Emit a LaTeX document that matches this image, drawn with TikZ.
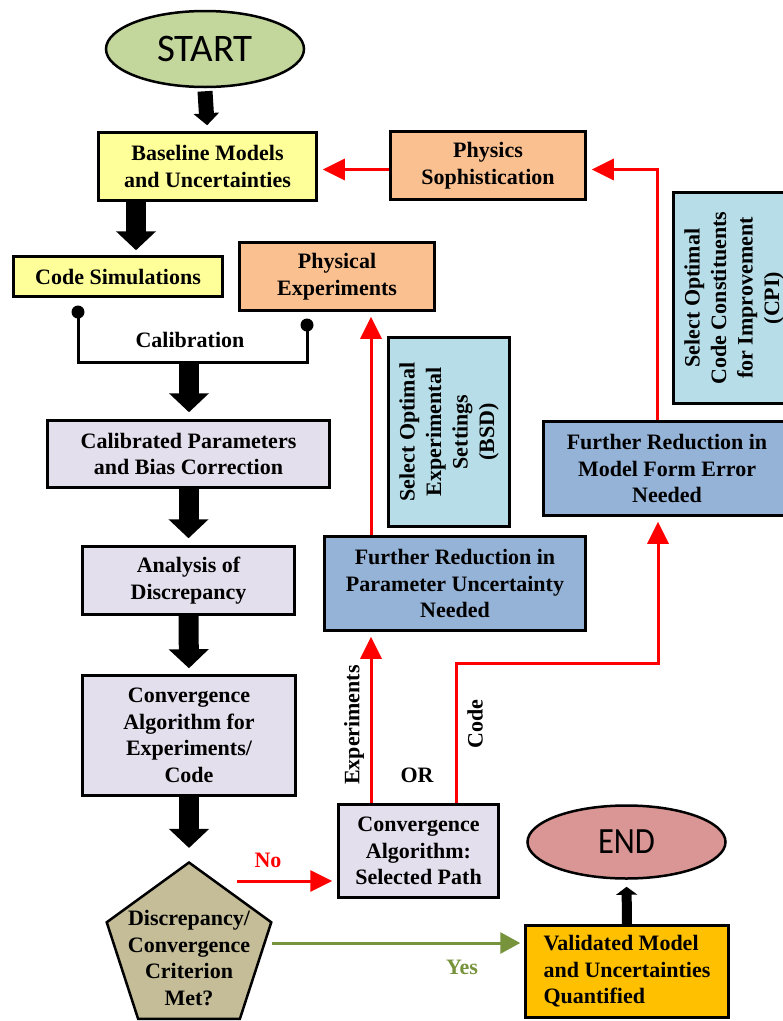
\documentclass[tikz,border=0pt]{standalone}
\usepackage{fontspec}
\setmainfont{Liberation Serif}
\newfontfamily\carlito{Carlito}
\usetikzlibrary{arrows.meta,shapes.geometric}
\definecolor{cstart}{HTML}{C3D69B}
\definecolor{cyellow}{HTML}{FFFF99}
\definecolor{corange}{HTML}{FAC090}
\definecolor{clblue}{HTML}{B7DEE8}
\definecolor{cmblue}{HTML}{95B3D7}
\definecolor{clav}{HTML}{E4DFEC}
\definecolor{ctan}{HTML}{C4BD97}
\definecolor{cgold}{HTML}{FFC000}
\definecolor{cend}{HTML}{D99694}
\definecolor{cred}{HTML}{FF0000}
\definecolor{cgreen}{HTML}{77933C}
\begin{document}
\begin{tikzpicture}[x=1pt,y=-1pt,
  txt/.style={inner sep=0pt,align=center,font=\bfseries\fontsize{22}{26.5}\selectfont},
  box/.style={txt,draw=black,line width=2.5pt,rectangle},
  oval/.style={ellipse,draw=black,line width=2.5pt,inner sep=0pt,font=\carlito\fontsize{39}{44}\selectfont},
  midarrow/.style={draw=black,line width=15pt,-{Triangle[length=12pt,width=25pt]}},
  bigarrow/.style={draw=black,line width=20pt,-{Triangle[length=19pt,width=39pt]}},
  smallarrow/.style={draw=black,line width=10pt,-{Triangle[length=8pt,width=21pt]}},
  redarrow/.style={draw=cred,line width=3pt,-{Triangle[length=22pt,width=21pt]},shorten >=5pt},
  greenarrow/.style={draw=cgreen,line width=3pt,-{Triangle[length=20pt,width=21pt]},shorten >=4pt},
  bracketline/.style={draw=black,line width=3pt,line join=miter},
]
\clip (0,0) rectangle (783,1021);
\fill[white] (0,0) rectangle (783,1021);

% nodes
\node[oval,fill=cstart,minimum width=198pt,minimum height=76pt] (start) at (205,49) {START};
\node[box,fill=cyellow,minimum width=218pt,minimum height=68pt] (base) at (207.5,166.5) {Baseline Models\\and Uncertainties};
\node[box,fill=cyellow,minimum width=209pt,minimum height=40pt] (codesim) at (118,276.5) {Code Simulations};
\node[box,fill=corange,minimum width=195pt,minimum height=68pt] (physexp) at (337,276.5) {Physical\\Experiments};
\node[box,fill=corange,minimum width=195pt,minimum height=68pt] (physsoph) at (488,165.5) {Physics\\Sophistication};
\node[box,fill=clblue,rotate=90,minimum width=211pt,minimum height=121pt] (cpi) at (734,298) {Select Optimal\\Code Constituents\\for Improvement\\(CPI)};
\node[box,fill=clblue,rotate=90,minimum width=189pt,minimum height=121pt] (bsd) at (449,432) {Select Optimal\\Experimental\\Settings\\(BSD)};
\node[box,fill=cmblue,minimum width=247pt,minimum height=94pt] (mfe) at (667,468.5) {Further Reduction in\\Model Form Error\\Needed};
\node[box,fill=cmblue,minimum width=261pt,minimum height=94pt] (pu) at (455,583.5) {Further Reduction in\\Parameter Uncertainty\\Needed};
\node[box,fill=clav,minimum width=282pt,minimum height=67pt] (calib) at (188.5,454) {Calibrated Parameters\\and Bias Correction};
\node[box,fill=clav,minimum width=212pt,minimum height=68pt] (analysis) at (188.5,580.5) {Analysis of\\Discrepancy};
\node[box,fill=clav,minimum width=213pt,minimum height=120pt] (convalg) at (189,735.5) {Convergence\\Algorithm for\\Experiments/\\Code};
\node[box,fill=clav,minimum width=160pt,minimum height=93pt] (selpath) at (418.5,851) {Convergence\\Algorithm:\\Selected Path};
\node[regular polygon,regular polygon sides=5,draw=black,line width=2.5pt,fill=ctan,inner sep=0pt,minimum size=173pt] (pent) at (189,949) {};
\node[txt] (penttext) at (189,958) {Discrepancy/\\Convergence\\Criterion\\Met?};
\node[box,fill=cgold,minimum width=203pt,minimum height=92pt,align=left] (valid) at (627,971.5) {Validated Model\\and Uncertainties\\Quantified};
\node[oval,fill=cend,minimum width=198pt,minimum height=73pt,font=\carlito\fontsize{37}{42}\selectfont] (end) at (626.5,842) {\scalebox{0.88}[1]{END}};

% calibration bracket
\coordinate (cl) at (78,312);
\coordinate (cr) at (307,325);
\coordinate (cbl) at (78,362);
\coordinate (cbr) at (307,362);
\coordinate (cb) at (189,362);
\draw[bracketline] (cl) -- (cbl) -- (cbr) -- (cr);
\fill (cl) circle (6.5pt);
\fill (cr) circle (6.5pt);
\node[txt] (callabel) at (190,340) {Calibration};

% black block arrows
\draw[midarrow,shorten >=6pt] ([yshift=-3pt]start.south) -- (base.north);
\draw[bigarrow,shorten >=5pt] (base.south -| 136,0) -- (codesim.north -| 136,0);
\draw[bigarrow,shorten >=7pt] (cb) -- (calib.north -| cb);
\draw[bigarrow,shorten >=7pt] (calib.south) -- (analysis.north);
\draw[bigarrow,shorten >=6pt] (analysis.south) -- (convalg.north);
\draw[bigarrow,shorten >=13pt] (convalg.south) -- (pent.corner 1);
\draw[smallarrow,shorten >=7pt] (valid.north) -- (end.south);

% red connectors
\draw[redarrow] ([yshift=-4pt]physsoph.west) -- ([yshift=-4pt]physsoph.west -| base.east);
\draw[redarrow] ([xshift=-10pt]mfe.north) |- ([yshift=-4pt]physsoph.east);
\draw[redarrow] ([xshift=-84pt]pu.north) -- ([xshift=-84pt]pu.north |- physexp.south);
\draw[redarrow] ([xshift=-47.5pt]selpath.north) -- ([xshift=-47.5pt]selpath.north |- pu.south);
\coordinate (codebend) at (456,663);
\draw[redarrow,line join=miter] ([xshift=37.5pt]selpath.north) -- (codebend) -| ([xshift=-9pt]mfe.south);
\coordinate (nostart) at (237,881);
\draw[redarrow] (nostart) -- (nostart -| selpath.west);
\coordinate (yesstart) at (272,943);
\draw[greenarrow] (yesstart) -- (yesstart -| valid.west);

% labels
\node[txt,rotate=90] (lexp) at (354,725) {Experiments};
\node[txt,rotate=90] (lcode) at (475,724) {Code};
\node[txt] (lor) at (417,775) {OR};
\node[txt,text=cred] (lno) at (268,860) {No};
\node[txt,text=cgreen] (lyes) at (462,967) {Yes};
\end{tikzpicture}
\end{document}
